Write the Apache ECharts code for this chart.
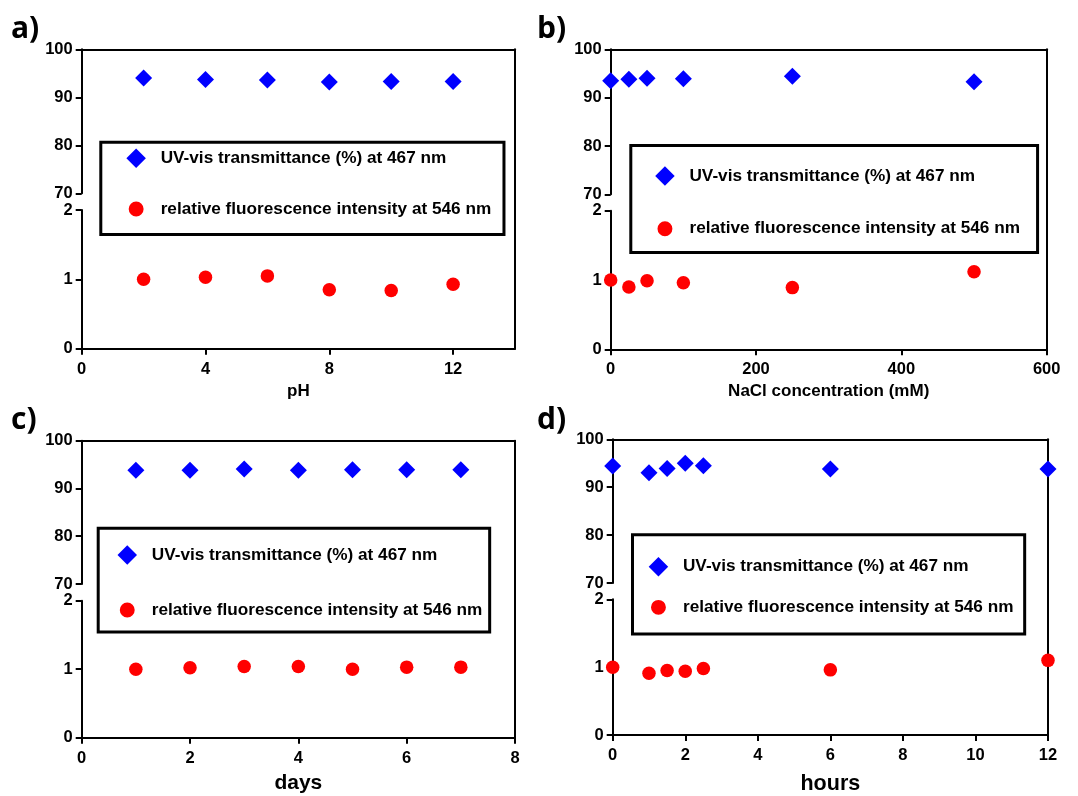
<!DOCTYPE html>
<html>
<head>
<meta charset="utf-8">
<script src="https://cdn.jsdelivr.net/npm/echarts@6/dist/echarts.min.js"></script>
<style>
  html, body { margin: 0; padding: 0; background: #ffffff; }
  #chart { width: 1078px; height: 796px; }
</style>
</head>
<body>
<div id="chart"></div>
<script>
// ---------- data ----------
const uvName = 'UV-vis transmittance (%) at 467 nm';
const flName = 'relative fluorescence intensity at 546 nm';

const phX  = [2, 4, 6, 8, 10, 12];
const phUV = [94.0, 93.7, 93.6, 93.2, 93.3, 93.3];
const phFl = [1.00, 1.03, 1.05, 0.85, 0.84, 0.93];

const naclX  = [0, 25, 50, 100, 250, 500];
const naclUV = [93.5, 93.8, 94.0, 93.9, 94.4, 93.3];
const naclFl = [1.00, 0.90, 0.99, 0.96, 0.89, 1.12];

const dayX  = [1, 2, 3, 4, 5, 6, 7];
const dayUV = [93.8, 93.8, 94.1, 93.8, 93.9, 93.9, 93.9];
const dayFl = [1.00, 1.02, 1.04, 1.04, 1.00, 1.03, 1.03];

const hourX  = [0, 1, 1.5, 2, 2.5, 6, 12];
const hourUV = [94.4, 93.0, 93.9, 95.0, 94.5, 93.8, 93.8];
const hourFl = [1.00, 0.91, 0.95, 0.94, 0.98, 0.96, 1.10];

const upperTicks = [70, 80, 90, 100];
const lowerTicks = [0, 1, 2];
const phTicks   = [0, 4, 8, 12];
const naclTicks = [0, 200, 400, 600];
const dayTicks  = [0, 2, 4, 6, 8];
const hourTicks = [0, 2, 4, 6, 8, 10, 12];

const panelLabels = ['a)', 'b)', 'c)', 'd)'];
const xTitles = ['pH', 'NaCl concentration (mM)', 'days', 'hours'];

// ---------- layout / style ----------
const FONT = 'Liberation Sans, Arial, sans-serif';
const diamondIcon = 'path://M8.5,0L17,8.5L8.5,17L0,8.5Z';
const circleIcon = 'path://M0,0M17,17M2,8.5A6.5,6.5,0,1,1,15,8.5A6.5,6.5,0,1,1,2,8.5Z';

const panels = [
  { x: phX, uv: phUV, fl: phFl, xMax: 14, xInt: 4, xTicks: phTicks,
    left: 81.7, width: 433.3, top: 49.3, upperH: 144, lowerTop: 210, lowerH: 138.7,
    nameSize: 17, nameGap: 34,
    lab: { left: 11, top: 14 },
    leg: { left: 100.8, top: 142.2, padding: [6.4, 12.8, 15.8, 25.6], gap: 31.2 } },
  { x: naclX, uv: naclUV, fl: naclFl, xMax: 600, xInt: 200, xTicks: naclTicks,
    left: 610.7, width: 436, top: 49.3, upperH: 145, lowerTop: 210.7, lowerH: 138.6,
    nameSize: 17, nameGap: 34,
    lab: { left: 537, top: 14 },
    leg: { left: 630.8, top: 145.5, padding: [20.8, 17.6, 14.1, 24.4], gap: 33.2 } },
  { x: dayX, uv: dayUV, fl: dayFl, xMax: 8, xInt: 2, xTicks: dayTicks,
    left: 81.7, width: 433.3, top: 440.7, upperH: 143.3, lowerTop: 600.7, lowerH: 137,
    nameSize: 21, nameGap: 35,
    lab: { left: 11, top: 405 },
    leg: { left: 98.2, top: 528.2, padding: [17.1, 7.4, 12.1, 19.3], gap: 35.5 } },
  { x: hourX, uv: hourUV, fl: hourFl, xMax: 12, xInt: 2, xTicks: hourTicks,
    left: 612.7, width: 435.3, top: 439.3, upperH: 143.7, lowerTop: 599.3, lowerH: 136.7,
    nameSize: 21.5, nameGap: 38,
    lab: { left: 537, top: 405 },
    leg: { left: 632.5, top: 534.8, padding: [22.2, 11.2, 16.8, 16.2], gap: 21.1 } }
];

const axisLineStyle = { color: '#000', width: 2 };
const tickStyle = { color: '#000', width: 2 };
const labelStyle = { color: '#000', fontFamily: FONT, fontWeight: 'bold', fontSize: 16.5 };

const grid = [], xAxis = [], yAxis = [], series = [], legend = [], title = [];

panels.forEach((p, k) => {
  const g0 = grid.length;
  // upper segment
  grid.push({ left: p.left, top: p.top, width: p.width, height: p.upperH, containLabel: false });
  // lower segment
  grid.push({ left: p.left, top: p.lowerTop, width: p.width, height: p.lowerH, containLabel: false });
  // frame (top + right border)
  grid.push({ left: p.left, top: p.top, width: p.width, height: p.lowerTop + p.lowerH - p.top, containLabel: false });

  // x axes
  xAxis.push({ gridIndex: g0, type: 'value', min: 0, max: p.xMax, show: false });
  xAxis.push({
    gridIndex: g0 + 1, type: 'value', min: 0, max: p.xMax, interval: p.xInt,
    name: xTitles[k], nameLocation: 'middle', nameGap: p.nameGap,
    nameTextStyle: { color: '#000', fontFamily: FONT, fontWeight: 'bold', fontSize: p.nameSize },
    axisLine: { show: true, onZero: false, lineStyle: axisLineStyle },
    axisTick: { show: true, inside: false, length: 6, lineStyle: tickStyle, customValues: p.xTicks },
    axisLabel: Object.assign({ margin: 12, customValues: p.xTicks }, labelStyle),
    splitLine: { show: false }
  });
  xAxis.push({
    gridIndex: g0 + 2, type: 'value', min: 0, max: 1, position: 'top',
    axisLine: { show: true, onZero: false, lineStyle: axisLineStyle },
    axisTick: { show: false }, axisLabel: { show: false }, splitLine: { show: false }
  });

  // y axes
  yAxis.push({
    gridIndex: g0, type: 'value', min: 70, max: 100, interval: 10,
    axisLine: { show: true, onZero: false, lineStyle: axisLineStyle },
    axisTick: { show: true, inside: false, length: 6, lineStyle: tickStyle, customValues: upperTicks },
    axisLabel: Object.assign({ margin: 9, customValues: upperTicks }, labelStyle),
    splitLine: { show: false }
  });
  yAxis.push({
    gridIndex: g0 + 1, type: 'value', min: 0, max: 2, interval: 1,
    axisLine: { show: true, onZero: false, lineStyle: axisLineStyle },
    axisTick: { show: true, inside: false, length: 6, lineStyle: tickStyle, customValues: lowerTicks },
    axisLabel: Object.assign({ margin: 9, customValues: lowerTicks }, labelStyle),
    splitLine: { show: false }
  });
  yAxis.push({
    gridIndex: g0 + 2, type: 'value', min: 0, max: 1, position: 'right',
    axisLine: { show: true, onZero: false, lineStyle: axisLineStyle },
    axisTick: { show: false }, axisLabel: { show: false }, splitLine: { show: false }
  });

  // series
  series.push({
    name: uvName, type: 'scatter', xAxisIndex: g0, yAxisIndex: g0, clip: false,
    symbol: 'diamond', symbolSize: 17, itemStyle: { color: '#0000FF', opacity: 1 },
    data: p.x.map((v, i) => [v, p.uv[i]]), z: 5
  });
  series.push({
    name: flName, type: 'scatter', xAxisIndex: g0 + 1, yAxisIndex: g0 + 1, clip: false,
    symbol: 'circle', symbolSize: 13.5, itemStyle: { color: '#FF0000', opacity: 1 },
    data: p.x.map((v, i) => [v, p.fl[i]]), z: 5
  });

  legend.push({
    orient: 'vertical', left: p.leg.left, top: p.leg.top, padding: p.leg.padding,
    itemGap: p.leg.gap, itemWidth: 39, itemHeight: 19.5, selectedMode: false,
    borderColor: '#000', borderWidth: 3, backgroundColor: 'transparent',
    textStyle: { color: '#000', fontFamily: FONT, fontWeight: 'bold', fontSize: 17.2 },
    data: [
      { name: uvName, icon: diamondIcon, itemStyle: { color: '#0000FF', opacity: 1 } },
      { name: flName, icon: circleIcon, itemStyle: { color: '#FF0000', opacity: 1 } }
    ]
  });

  title.push({
    text: panelLabels[k], left: p.lab.left, top: p.lab.top, padding: 0,
    textStyle: { color: '#000', fontFamily: 'Open Sans, sans-serif', fontWeight: 'bold', fontSize: 30 }
  });
});

const chart = echarts.init(document.getElementById('chart'), null, { renderer: 'canvas' });
chart.setOption({
  animation: false,
  backgroundColor: '#ffffff',
  title, grid, xAxis, yAxis, legend, series
});
</script>
</body>
</html>
